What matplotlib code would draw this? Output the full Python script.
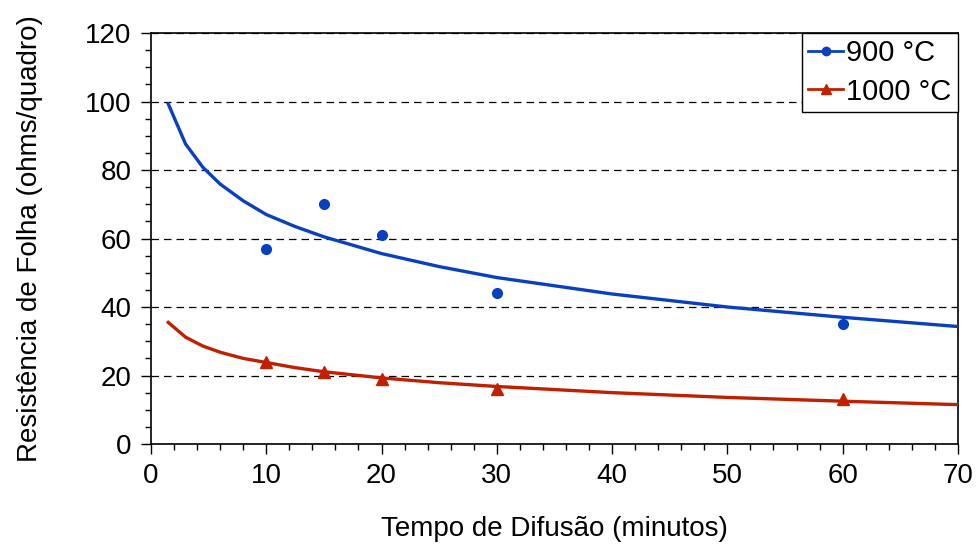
import numpy as np
import matplotlib.pyplot as plt
from matplotlib.ticker import MultipleLocator

plt.rcParams['font.family'] = ['Liberation Sans', 'DejaVu Sans']

# Pontos medidos
tempo = [10, 15, 20, 30, 60]
rs_900 = [57, 70, 61, 44, 35]
rs_1000 = [24, 21, 19, 16, 13]

# Curvas de ajuste
tempo_ajuste = [1.5, 3, 4.5, 6, 8, 10, 12.5, 15, 20, 25, 30, 40, 50, 60, 70]
ajuste_900 = [99.3, 87.6, 80.8, 75.9, 71.0, 67.0, 63.5, 60.5, 55.6, 51.8, 48.6, 43.8, 40.0, 37.0, 34.3]
ajuste_1000 = [35.5, 31.2, 28.6, 26.8, 25.0, 23.8, 22.3, 21.1, 19.3, 17.9, 16.8, 15.0, 13.6, 12.5, 11.5]

azul = '#0840c0'
vermelho = '#c02000'

fig = plt.figure(figsize=(9.79, 5.5), dpi=100)
ax = fig.add_axes([0.1542, 0.1927, 0.8243, 0.7473])

ax.plot(tempo_ajuste, ajuste_900, color=azul, lw=2.4, zorder=3)
ax.plot(tempo_ajuste, ajuste_1000, color=vermelho, lw=2.4, zorder=3)
ax.plot(tempo, rs_900, 'o', color=azul, ms=7, zorder=4)
ax.plot(tempo, rs_1000, '^', color=vermelho, ms=8, zorder=4)

# entradas da legenda (linha + marcador)
ax.plot([], [], '-o', color=azul, lw=2, ms=6, label='900 °C')
ax.plot([], [], '-^', color=vermelho, lw=2, ms=7, label='1000 °C')

ax.set_xlim(0, 70)
ax.set_ylim(0, 120)
ax.xaxis.set_major_locator(MultipleLocator(10))
ax.xaxis.set_minor_locator(MultipleLocator(2))
ax.yaxis.set_major_locator(MultipleLocator(20))
ax.yaxis.set_minor_locator(MultipleLocator(5))
ax.tick_params(which='major', length=7, width=1, labelsize=20, direction='out', pad=7)
ax.tick_params(which='minor', length=4, width=1, direction='out')
ax.tick_params(axis='y', right=False, which='both')
ax.tick_params(axis='x', top=False, which='both')
ax.yaxis.grid(True, which='major', color='black', linestyle=(0, (6, 4)), lw=0.9)
for s in ax.spines.values():
    s.set_linewidth(1.2)

ax.set_xlabel('Tempo de Difusão (minutos)', fontsize=20, labelpad=19)
ax.set_ylabel('Resistência de Folha (ohms/quadro)', fontsize=20, labelpad=30)

leg = ax.legend(loc='upper right', fontsize=21, frameon=True, fancybox=False,
                edgecolor='black', framealpha=1, handlelength=1.2, handletextpad=0.1,
                borderpad=0.22, labelspacing=0.35, borderaxespad=0.0)
leg.get_frame().set_linewidth(1.0)
leg.set_zorder(5)

fig.savefig('out.png', dpi=100)
